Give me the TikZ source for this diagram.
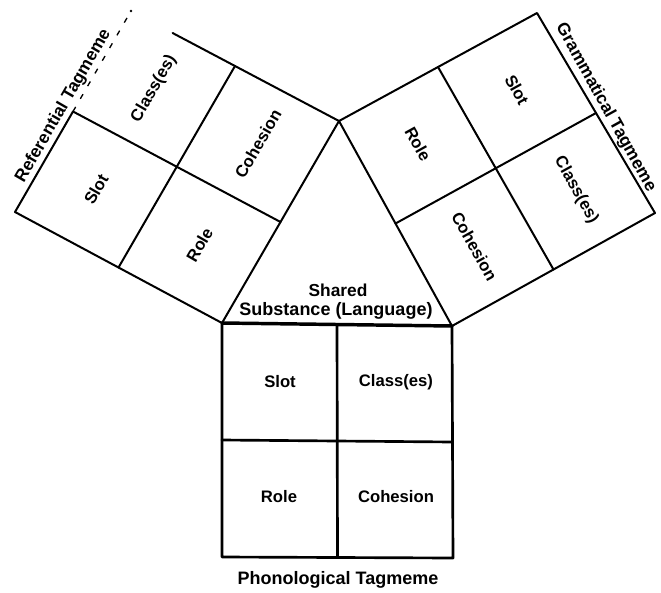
\documentclass[tikz,border=0pt]{standalone}
\usepackage{fontspec}
\setmainfont{Liberation Sans}
\usetikzlibrary{calc}
\begin{document}
\begin{tikzpicture}[x=0.75pt,y=-0.75pt,
  edge/.style={line width=1.5pt, line cap=round, line join=round},
  heavy/.style={line width=2pt, line cap=round, line join=round},
  baseline/.style={line width=2.6pt, line cap=round},
  faint/.style={line width=1pt, dash pattern=on 4pt off 7pt},
  cell/.style={font=\bfseries\fontsize{12.5}{14}\selectfont, inner sep=1pt},
  title/.style={font=\bfseries\fontsize{13}{15}\selectfont, inner sep=2pt}]
\useasboundingbox (0,0) rectangle (661,593);
% corners
\coordinate (A) at (339,121);
\coordinate (B) at (222,323);
\coordinate (D) at (452,326);
\coordinate (Bo) at (15,212);
\coordinate (Ao) at (131,11);
\coordinate (Co) at (537,13);
\coordinate (Do) at (655,213);
\coordinate (B2) at (222,557);
\coordinate (D2) at (453,558);
\coordinate (OL) at ($(A)!0.5!(Bo)$);
\coordinate (OR) at ($(A)!0.5!(Do)$);
\coordinate (LmO) at ($(Ao)!0.5!(Bo)$);
\coordinate (RmO) at ($(Co)!0.5!(Do)$);
% left square (Referential)
\draw[edge] (A) -- (B) -- (Bo) -- (LmO);
\draw[edge] (A) -- ($(A)!0.8!(Ao)$);
\draw[faint] (LmO) -- (Ao);
\fill (Ao) circle (1.3);
\draw[edge] ($(A)!0.5!(B)$) -- (LmO);
\draw[edge] ($(A)!0.5!(Ao)$) -- ($(B)!0.5!(Bo)$);
% right square (Grammatical)
\draw[edge] (A) -- (D) -- (Do) -- (Co) -- cycle;
\draw[edge] ($(A)!0.5!(D)$) -- (RmO);
\draw[edge] ($(A)!0.5!(Co)$) -- ($(D)!0.5!(Do)$);
% bottom square (Phonological)
\draw[heavy] (B) -- (B2) -- (D2) -- (D);
\draw[baseline] (B) -- (D);
\draw[heavy] ($(B)!0.5!(D)$) -- ($(B2)!0.5!(D2)$);
\draw[heavy] ($(B)!0.5!(B2)$) -- ($(D)!0.5!(D2)$);
% left labels
\node[cell, rotate=60] (lclass) at ($(OL)!0.5!(Ao)$) {Class(es)};
\node[cell, rotate=60] (lcoh) at ($(OL)!0.5!(A)$) {Cohesion};
\node[cell, rotate=60] (lslot) at ($(OL)!0.5!(Bo)$) {Slot};
\node[cell, rotate=60] (lrole) at ($(OL)!0.5!(B)$) {Role};
\node[title, rotate=60, anchor=south] (ltitle) at (LmO) {Referential Tagmeme};
% right labels
\node[cell, rotate=-61] (rslot) at ($(OR)!0.5!(Co)$) {Slot};
\node[cell, rotate=-61] (rrole) at ($(OR)!0.5!(A)$) {Role};
\node[cell, rotate=-61] (rclass) at ($(OR)!0.5!(Do)$) {Class(es)};
\node[cell, rotate=-61] (rcoh) at ($(OR)!0.5!(D)$) {Cohesion};
\node[title, rotate=-61, anchor=south] (rtitle) at (RmO) {Grammatical Tagmeme};
% bottom labels
\node[cell] (bslot) at (280,382) {Slot};
\node[cell] (bclass) at (396,382) {Class(es)};
\node[cell] (brole) at (279,497) {Role};
\node[cell] (bcoh) at (396,497) {Cohesion};
\node[title] (shared) at (338,290) {Shared};
\node[title, font=\bfseries\fontsize{13.5}{15}\selectfont] (subst) at (336,311) {Substance (Language)};
\node[title, font=\bfseries\fontsize{13.5}{15}\selectfont] (btitle) at (338,580) {Phonological Tagmeme};
\end{tikzpicture}
\end{document}
